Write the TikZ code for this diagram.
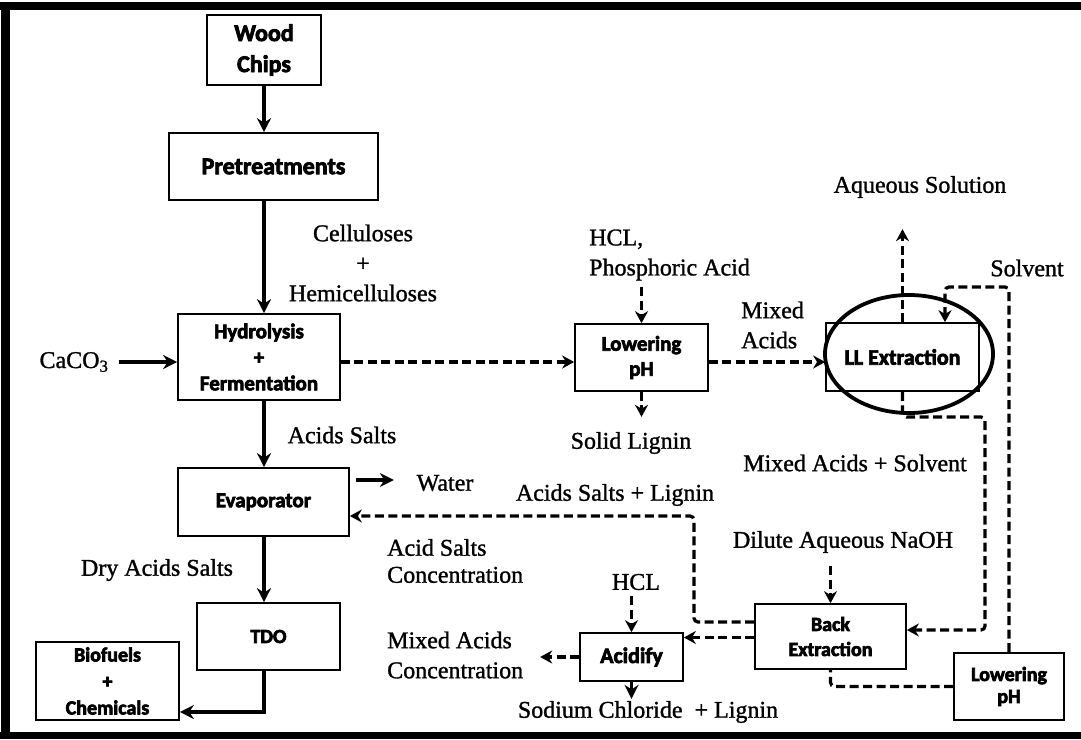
\documentclass[tikz,border=0pt]{standalone}
\usepackage{fontspec}
\setmainfont{Liberation Serif}[FakeBold=1.2]
\newfontfamily\boxfont{Carlito}[BoldFeatures={FakeBold=3.2}]
\usetikzlibrary{arrows.meta,shapes.geometric}
\newcommand\labsize{\fontsize{24}{29}\selectfont}
\tikzset{
  box/.style={draw, line width=1.7pt, inner sep=0pt, align=center},
  lab/.style={font=\labsize, inner sep=0pt, align=center},
  labl/.style={font=\labsize, inner sep=0pt, align=left, anchor=west},
  solidarrow/.style={line width=3.4pt, -{Stealth[length=14pt,width=14pt]}},
  dasharrow/.style={line width=3.2pt, dash pattern=on 9pt off 4.5pt, -{Stealth[length=12pt,width=13pt]}},
  dashline/.style={line width=3.2pt, dash pattern=on 9pt off 4.5pt},
}
\newcommand\bxf[2]{\boxfont\bfseries\fontsize{#1}{#2}\selectfont}
\begin{document}
\begin{tikzpicture}[x=1pt,y=-1pt]
\useasboundingbox (0,0) rectangle (1081,739);
% frame
\fill[black] (0,2) rectangle (1081,10);
\fill[black] (1,2) rectangle (10,739);
\fill[black] (0,732) rectangle (1081,739);

% boxes
\node[box, minimum width=114pt, minimum height=70pt, font=\bxf{24}{31}] (wood) at (264,50) {Wood\\Chips};
\node[box, minimum width=209pt, minimum height=67pt, font=\bxf{24}{28}] (pre) at (273.5,166.5) {Pretreatments};
\node[box, minimum width=162pt, minimum height=86pt, font=\bxf{21}{26}] (hyd) at (259,357) {Hydrolysis\\+\\Fermentation};
\node[box, minimum width=171pt, minimum height=68pt, font=\bxf{21}{26}] (evap) at (263.5,502) {Evaporator};
\node[box, minimum width=143pt, minimum height=67pt, font=\bxf{20}{26}] (tdo) at (268.5,636.5) {TDO};
\node[box, minimum width=143pt, minimum height=78pt, font=\bxf{20}{26.5}] (bio) at (107.5,681) {Biofuels\\+\\Chemicals};
\node[box, minimum width=133pt, minimum height=67pt, font=\bxf{21}{25}] (low1) at (641.5,357.5) {Lowering\\pH};
\node[box, minimum width=153pt, minimum height=68pt, font=\bxf{22}{26}] (llr) at (902.5,357) {LL Extraction};
\node[draw, ellipse, line width=3.8pt, minimum width=168pt, minimum height=118pt, inner sep=0pt] (lle) at (909,354) {};
\node[box, minimum width=151pt, minimum height=65pt, font=\bxf{20}{25}] (back) at (830.5,636.5) {Back\\Extraction};
\node[box, minimum width=103pt, minimum height=48pt, font=\bxf{22}{26}] (acid) at (631.5,657) {Acidify};
\node[box, minimum width=110pt, minimum height=67pt, font=\bxf{20}{22}] (low2) at (1009,686.5) {Lowering\\pH};

% labels
\node[lab] (caco) at (74,362) {CaCO\textsubscript{3}};
\node[lab, font=\fontsize{24}{30}\selectfont] (cell) at (363,263) {Celluloses\\+\\Hemicelluloses};
\node[lab] (asalts) at (342,435) {Acids Salts};
\node[lab] (water) at (445,483) {Water};
\node[lab] (dry) at (157,570) {Dry Acids Salts};
\node[labl, font=\fontsize{24}{27}\selectfont] (ascon) at (387,561) {Acid Salts\\Concentration};
\node[labl, font=\fontsize{24}{30}\selectfont] (macon) at (387,655) {Mixed Acids\\Concentration};
\node[labl, font=\fontsize{24}{30}\selectfont] (hclp) at (589,255) {HCL,\\Phosphoric Acid};
\node[lab] (solid) at (631,443) {Solid Lignin};
\node[labl, font=\fontsize{24}{30}\selectfont] (mixed) at (741,325) {Mixed\\Acids};
\node[lab] (aqsol) at (920,187) {Aqueous Solution};
\node[lab] (solv) at (1027,268) {Solvent};
\node[lab] (mas) at (855,463) {Mixed Acids + Solvent};
\node[lab] (asl) at (615,495) {Acids Salts + Lignin};
\node[lab] (naoh) at (843,542) {Dilute Aqueous NaOH};
\node[lab] (hcl) at (636,582) {HCL};
\node[lab] (nacl) at (648,712) {Sodium Chloride\ \ + Lignin};

\coordinate (sv) at (945,287);
\coordinate (mr) at (985,417);
\coordinate (ab) at (694,516);

% solid connectors
\draw[solidarrow] (wood.south) -- (wood.south |- pre.north);
\draw[solidarrow] (wood.south |- pre.south) -- (wood.south |- hyd.north);
\draw[solidarrow] (wood.south |- hyd.south) -- (wood.south |- evap.north);
\draw[solidarrow] (wood.south |- evap.south) -- (wood.south |- tdo.north);
\draw[solidarrow] (wood.south |- tdo.south) |- ([yshift=-31pt]bio.east);
\draw[solidarrow] ([xshift=10pt]caco.east) -- (caco.east -| hyd.west);
\draw[solidarrow] ([xshift=6pt,yshift=22pt]evap.east) -- ([xshift=44pt,yshift=22pt]evap.east);
\draw[solidarrow] (acid.south) -- ([yshift=-17pt]acid.south);

% dashed connectors
\draw[dasharrow] ([yshift=-5pt]hyd.east) -- ([yshift=-5pt]hyd.east -| low1.west);
\draw[dasharrow] ([yshift=-4.5pt]low1.east) -- ([yshift=-4.5pt]low1.east -| llr.west);
\draw[dasharrow] ([yshift=36pt]low1.north) -- (low1.north);
\draw[dasharrow] (low1.south) -- ([yshift=-25pt]low1.south);
\draw[dasharrow] (llr.north) -- ([yshift=93pt]llr.north);
\draw[dasharrow, rounded corners=4pt] (low2.north) |- (sv) -- (sv |- llr.north);
\draw[dasharrow, rounded corners=4pt] (llr.south) |- (mr) |- ([yshift=6.5pt]back.east);
\draw[dasharrow] ([yshift=37pt]back.north) -- (back.north);
\draw[dasharrow, rounded corners=4pt] ([yshift=14.5pt]back.west) -| (ab) -- (ab -| evap.east);
\draw[dasharrow] ([yshift=-1pt]back.west) -- ([yshift=-1pt]back.west -| acid.east);
\draw[dasharrow] (acid.west) -- ([xshift=-39pt]acid.west);
\draw[dasharrow] ([yshift=36pt]acid.north) -- (acid.north);
\draw[dashline, rounded corners=4pt] (low2.west) -| (back.south);
\end{tikzpicture}
\end{document}
